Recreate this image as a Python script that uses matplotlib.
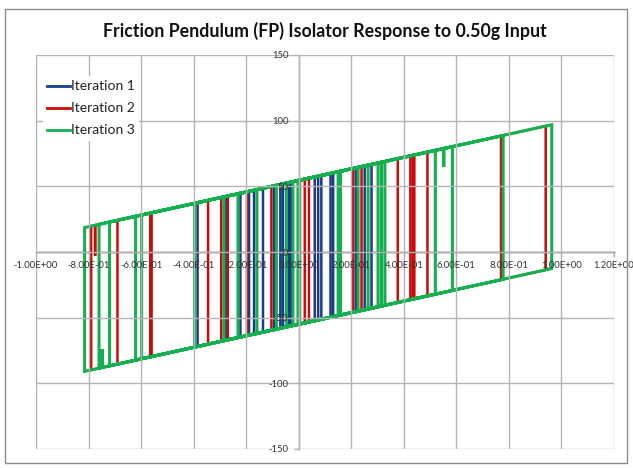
import matplotlib
matplotlib.use("Agg")
import matplotlib.pyplot as plt
from matplotlib.ticker import FuncFormatter, MultipleLocator
from matplotlib.patches import Rectangle

title = "Friction Pendulum (FP) Isolator Response to 0.50g Input"
series_names = ["Iteration 1", "Iteration 2", "Iteration 3"]

# displacement / force vertices of each iteration
blue_x = [0.0, 0.061, 0.061, -0.024, -0.024, 0.086, 0.086, -0.094, -0.094, 0.131, 0.131,
          -0.17, -0.17, 0.217, 0.217, -0.278, -0.278, 0.277, 0.277, -0.385, -0.385,
          0.251, 0.251, -0.222, -0.222, 0.121, 0.121, -0.189, -0.189, 0.074, 0.074,
          -0.136, -0.136, -0.032, -0.032, -0.07, -0.07, -0.038, -0.038, -0.06, -0.06]
blue_f = [54.5, 57.2, -52.3, -56.1, 53.4, 58.3, -51.2, -59.1, 50.4, 60.3, -49.2,
          -62.5, 47.0, 64.0, -45.5, -67.2, 42.3, 66.7, -42.8, -71.9, 37.6,
          65.5, -44.0, -64.8, 44.7, 59.8, -49.7, -63.3, 46.2, 57.8, -51.7,
          -61.0, 48.5, 53.1, -56.4, -58.1, 51.4, 52.8, -56.7, -57.6, 51.9]

red_x = [0.0, 0.039, 0.039, -0.104, -0.104, 0.207, 0.207, -0.27, -0.27, 0.44, 0.44,
         -0.565, -0.565, 0.94, 0.94, -0.79, -0.79, -0.775, -0.775, -0.775,
         0.77, 0.77, -0.69, -0.69, 0.49, 0.49, -0.56, -0.56, 0.435, 0.435,
         -0.345, -0.345, 0.425, 0.425, -0.295, -0.295, 0.377, 0.377, -0.197, -0.197,
         0.239, 0.239, 0.023, 0.023]
red_f = [54.5, 56.2, -53.3, -59.6, 49.9, 63.6, -45.9, -66.9, 42.6, 73.9, -35.6,
         -79.9, 29.6, 95.9, -13.6, -89.8, 19.7, 20.4, -3.0, 20.4,
         88.4, -21.1, -85.4, 24.1, 76.1, -33.4, -79.6, 29.9, 73.6, -35.9,
         -70.2, 39.3, 73.2, -36.3, -68.0, 41.5, 71.1, -38.4, -63.7, 45.8,
         65.0, -44.5, -54.0, 55.5]

green_x = [0.0, 0.15, 0.15, -0.085, -0.085, 0.302, 0.302, -0.231, -0.231, 0.52, 0.52,
           -0.396, -0.396, 0.552, 0.552, 0.552, 0.585, 0.585, -0.598, -0.598,
           0.963, 0.963, -0.815, -0.815, 0.778, 0.778, -0.748, -0.748, -0.748,
           -0.76, -0.76, 0.328, 0.328, -0.72, -0.72, 0.315, 0.315, -0.621, -0.621,
           0.264, 0.264, -0.285, -0.285, 0.226, 0.226, -0.159, -0.159, 0.159, 0.159,
           -0.047, -0.047, 0.004, 0.004, -0.022, -0.022, -0.003, -0.003]
green_f = [54.5, 61.1, -48.4, -58.7, 50.8, 67.8, -41.7, -65.2, 44.3, 77.4, -32.1,
           -72.4, 37.1, 78.8, 65.0, 78.8, 80.2, -29.3, -81.3, 28.2,
           96.9, -12.6, -90.9, 18.6, 88.7, -20.8, -87.9, -74.0, -87.9,
           -88.4, 21.1, 68.9, -40.6, -86.7, 22.8, 68.4, -41.1, -82.3, 27.2,
           66.1, -43.4, -67.5, 42.0, 64.4, -45.1, -62.0, 47.5, 61.5, -48.0,
           -57.1, 52.4, 54.7, -54.8, -56.0, 53.5, 54.4, -55.1]

x_min, x_max, x_step = -1.0, 1.2, 0.2
y_min, y_max, y_step = -150, 150, 50

colors = ["#1b3a8a", "#cc0a0a", "#14b050"]
widths = [1.8, 1.8, 2.2]

plt.rcParams["font.family"] = ["Lato", "DejaVu Sans"]

fig = plt.figure(figsize=(6.33, 4.68), dpi=100)
fig.patch.set_facecolor("white")
ax = fig.add_axes([36 / 633, 19 / 468, 578 / 633, 394 / 468])
ax.set_xlim(x_min, x_max)
ax.set_ylim(y_min, y_max)
ax.xaxis.set_major_locator(MultipleLocator(x_step))
ax.yaxis.set_major_locator(MultipleLocator(y_step))

grid_c = "#b4b4b4"
ax.grid(True, color=grid_c, linewidth=1.0, zorder=0)
ax.set_axisbelow(False)
for gl in ax.get_xgridlines() + ax.get_ygridlines():
    gl.set_zorder(0)

for xs, fs, c, w, name in zip([blue_x, red_x, green_x], [blue_f, red_f, green_f],
                              colors, widths, series_names):
    ax.plot(xs, fs, color=c, linewidth=w, label=name, zorder=2,
            solid_joinstyle="miter")

for s in ["top", "right"]:
    ax.spines[s].set_visible(False)
ax.spines["bottom"].set_position(("data", 0))
ax.spines["left"].set_position(("data", 0))
ax.spines["bottom"].set_color("#404040")
ax.spines["bottom"].set_linewidth(1.0)
ax.spines["left"].set_color("#9a9a9a")
ax.spines["left"].set_linewidth(1.0)

ax.xaxis.set_major_formatter(FuncFormatter(lambda v, p: "{:.2E}".format(0.0 if abs(v) < 1e-9 else v)))
ax.yaxis.set_major_formatter(FuncFormatter(lambda v, p: "{:d}".format(int(round(v)))))
ax.tick_params(axis="x", direction="out", length=3.5, width=1.0, color=grid_c,
               labelsize=6.8, labelcolor="#333333", pad=3)
ax.tick_params(axis="y", direction="out", length=3.5, width=1.0, color=grid_c,
               labelsize=6.8, labelcolor="#333333", pad=4)

leg = ax.legend(loc="upper left", bbox_to_anchor=(0.012, 0.946), fontsize=10,
                frameon=True, fancybox=False, framealpha=1, edgecolor="none",
                facecolor="white", handlelength=1.65, handletextpad=0.1,
                labelspacing=0.72, borderpad=0.3, borderaxespad=0)
for t in leg.get_texts():
    t.set_color("#222222")
for h in leg.get_lines():
    h.set_linewidth(2.0)
leg.set_zorder(5)

fig.text(325 / 633, 1 - 31 / 468, title, ha="center", va="center",
         fontsize=12.8, fontweight="bold", color="#111111")

fig.patches.append(Rectangle((5 / 633, 5 / 468), 622 / 633, 454 / 468,
                             transform=fig.transFigure, fill=False,
                             edgecolor="#8c8c8c", linewidth=1.0))

fig.savefig("out.png", dpi=100, facecolor="white")
